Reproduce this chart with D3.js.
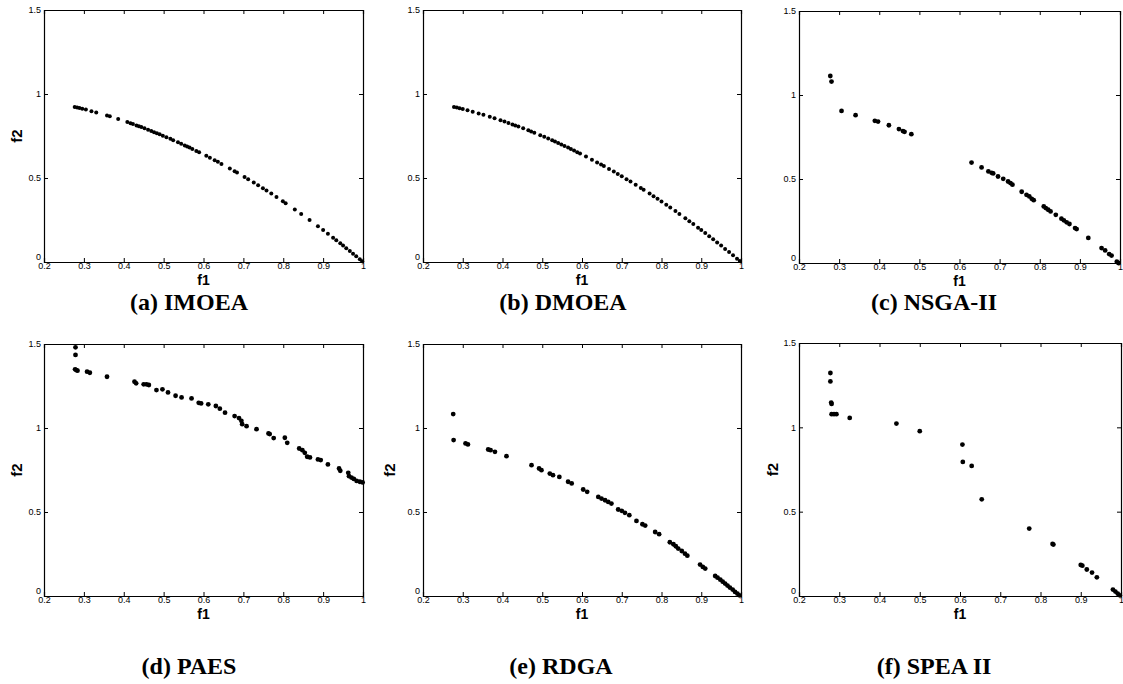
<!DOCTYPE html>
<html>
<head>
<meta charset="utf-8">
<script src="https://cdn.jsdelivr.net/npm/d3@7"></script>
<style>
  html, body { margin: 0; padding: 0; background: #fff; }
  svg { display: block; }
</style>
</head>
<body>
<svg id="chart" width="1123" height="684"></svg>
<script>
// ---------- DATA ----------
const xTicks = [0.2, 0.3, 0.4, 0.5, 0.6, 0.7, 0.8, 0.9, 1];
const yTicks = [0, 0.5, 1, 1.5];
const xLabel = "f1";
const yLabel = "f2";
const panelTitles = ["(a) IMOEA", "(b) DMOEA", "(c) NSGA-II", "(d) PAES", "(e) RDGA", "(f) SPEA II"];

const imoeaPoints = [
  [0.277,0.923],[0.283,0.920],[0.289,0.916],[0.296,0.912],[0.305,0.907],[0.319,0.898],[0.331,0.890],
  [0.358,0.872],[0.365,0.867],[0.386,0.851],[0.409,0.833],[0.417,0.826],[0.423,0.821],[0.432,0.813],
  [0.438,0.808],[0.444,0.803],[0.452,0.796],[0.461,0.787],[0.469,0.780],[0.476,0.773],[0.483,0.767],
  [0.490,0.760],[0.498,0.752],[0.507,0.743],[0.517,0.733],[0.524,0.725],[0.536,0.713],[0.544,0.704],
  [0.553,0.694],[0.559,0.688],[0.565,0.681],[0.572,0.673],[0.582,0.661],[0.589,0.653],[0.607,0.632],
  [0.616,0.621],[0.628,0.606],[0.636,0.596],[0.645,0.584],[0.666,0.556],[0.678,0.540],[0.684,0.532],
  [0.703,0.506],[0.712,0.493],[0.726,0.473],[0.737,0.457],[0.749,0.439],[0.758,0.425],[0.770,0.407],
  [0.783,0.387],[0.799,0.362],[0.806,0.350],[0.829,0.313],[0.845,0.286],[0.866,0.250],[0.887,0.213],
  [0.900,0.190],[0.912,0.168],[0.925,0.144],[0.933,0.130],[0.943,0.111],[0.950,0.098],[0.958,0.082],
  [0.967,0.065],[0.975,0.049],[0.983,0.034],[0.992,0.016],[0.998,0.004]
];

const dmoeaPoints = [
  [0.278,0.923],[0.285,0.919],[0.292,0.915],[0.300,0.910],[0.312,0.903],[0.325,0.894],[0.340,0.884],
  [0.352,0.876],[0.368,0.865],[0.380,0.856],[0.395,0.844],[0.405,0.836],[0.415,0.828],[0.425,0.819],
  [0.432,0.813],[0.440,0.806],[0.452,0.796],[0.465,0.784],[0.472,0.777],[0.480,0.770],[0.495,0.755],
  [0.505,0.745],[0.515,0.735],[0.525,0.724],[0.532,0.717],[0.540,0.708],[0.548,0.700],[0.556,0.691],
  [0.565,0.681],[0.572,0.673],[0.580,0.664],[0.588,0.654],[0.595,0.646],[0.610,0.628],[0.625,0.609],
  [0.638,0.593],[0.648,0.580],[0.655,0.571],[0.668,0.554],[0.680,0.538],[0.690,0.524],[0.700,0.510],
  [0.712,0.493],[0.722,0.479],[0.735,0.460],[0.748,0.440],[0.755,0.430],[0.770,0.407],[0.780,0.392],
  [0.790,0.376],[0.800,0.360],[0.812,0.341],[0.822,0.324],[0.835,0.303],[0.845,0.286],[0.860,0.260],
  [0.870,0.243],[0.880,0.226],[0.892,0.204],[0.900,0.190],[0.910,0.172],[0.920,0.154],[0.930,0.135],
  [0.940,0.116],[0.950,0.098],[0.960,0.078],[0.970,0.059],[0.980,0.040],[0.990,0.020],[0.997,0.006]
];

const nsga2Points = [
  [0.278,1.113],[0.281,1.080],[0.306,0.905],[0.341,0.880],[0.389,0.846],[0.397,0.842],[0.424,0.820],
  [0.449,0.797],[0.459,0.785],[0.463,0.781],[0.480,0.767],
  [0.630,0.598],[0.655,0.569],[0.672,0.545],[0.680,0.537],[0.684,0.533],[0.696,0.515],[0.709,0.501],
  [0.721,0.485],[0.727,0.476],[0.732,0.466],[0.755,0.424],[0.767,0.406],[0.774,0.396],[0.780,0.382],
  [0.785,0.374],[0.810,0.337],[0.815,0.327],[0.821,0.317],[0.827,0.307],[0.840,0.287],[0.854,0.264],
  [0.860,0.254],[0.867,0.242],[0.874,0.232],[0.888,0.208],[0.892,0.202],[0.921,0.149],[0.954,0.089],
  [0.963,0.075],[0.973,0.053],[0.979,0.044],[0.992,0.008],[0.996,0.000]
];

const paesPoints = [
  [0.279,1.480],[0.279,1.435],[0.278,1.349],[0.281,1.345],[0.284,1.341],[0.308,1.335],[0.315,1.329],
  [0.358,1.305],[0.427,1.276],[0.431,1.266],[0.450,1.260],[0.457,1.260],[0.463,1.256],[0.482,1.226],
  [0.497,1.230],[0.511,1.212],[0.530,1.192],[0.545,1.182],[0.570,1.176],[0.588,1.150],[0.594,1.146],
  [0.612,1.141],[0.631,1.131],[0.641,1.115],[0.654,1.091],[0.678,1.071],[0.689,1.059],[0.695,1.043],
  [0.697,1.023],[0.708,1.011],[0.733,0.993],[0.763,0.968],[0.766,0.964],[0.776,0.940],[0.804,0.942],
  [0.810,0.912],[0.840,0.878],[0.848,0.868],[0.854,0.852],[0.860,0.829],[0.867,0.825],[0.887,0.813],
  [0.894,0.809],[0.912,0.783],[0.940,0.759],[0.943,0.745],[0.963,0.733],[0.965,0.713],[0.971,0.705],
  [0.977,0.697],[0.984,0.685],[0.992,0.680],[0.999,0.676]
];

const rdgaPoints = [
  [0.276,1.083],[0.277,0.928],[0.307,0.908],[0.313,0.902],[0.364,0.872],[0.370,0.868],[0.381,0.858],
  [0.410,0.832],[0.473,0.779],[0.492,0.759],[0.498,0.749],[0.519,0.729],[0.527,0.719],[0.543,0.709],
  [0.565,0.680],[0.574,0.670],[0.603,0.634],[0.613,0.620],[0.641,0.590],[0.649,0.580],[0.658,0.570],
  [0.666,0.560],[0.674,0.550],[0.691,0.515],[0.700,0.507],[0.708,0.495],[0.719,0.481],[0.737,0.447],
  [0.752,0.427],[0.759,0.419],[0.784,0.381],[0.794,0.368],[0.821,0.320],[0.830,0.308],[0.836,0.296],
  [0.842,0.282],[0.851,0.268],[0.859,0.252],[0.865,0.240],[0.897,0.187],[0.904,0.173],[0.910,0.163],
  [0.935,0.119],[0.941,0.109],[0.948,0.097],[0.954,0.085],[0.960,0.074],[0.966,0.062],[0.972,0.050],
  [0.979,0.038],[0.985,0.024],[0.991,0.014],[0.996,0.004]
];

const spea2Points = [
  [0.278,1.322],[0.278,1.272],[0.280,1.147],[0.281,1.139],[0.281,1.078],[0.287,1.078],[0.293,1.078],
  [0.326,1.056],[0.442,1.022],[0.500,0.977],[0.606,0.898],[0.607,0.795],[0.629,0.771],[0.654,0.573],
  [0.772,0.400],[0.830,0.309],[0.832,0.305],[0.900,0.184],[0.904,0.180],[0.915,0.157],[0.928,0.139],
  [0.940,0.111],[0.980,0.038],[0.986,0.026],[0.992,0.014],[0.997,0.004]
];

const panelSeries = [imoeaPoints, dmoeaPoints, nsga2Points, paesPoints, rdgaPoints, spea2Points];

// ---------- LAYOUT ----------
const boxes = [
  {x0: 44,  x1: 363,  y0: 10,  y1: 262, r: 2.0, showY: true,  yLabX: 17,  titleX: 189, titleY: 302},
  {x0: 423, x1: 741,  y0: 10,  y1: 262, r: 2.0, showY: false, yLabX: 396, titleX: 563, titleY: 302},
  {x0: 799, x1: 1120, y0: 11,  y1: 263, r: 2.4, showY: false, yLabX: 773, titleX: 934, titleY: 302},
  {x0: 44,  x1: 363,  y0: 344, y1: 596, r: 2.4, showY: true,  yLabX: 17,  titleX: 189, titleY: 666},
  {x0: 423, x1: 741,  y0: 344, y1: 596, r: 2.4, showY: true,  yLabX: 390, titleX: 561, titleY: 666},
  {x0: 799, x1: 1121, y0: 343, y1: 596, r: 2.4, showY: true,  yLabX: 773, titleX: 934, titleY: 666}
];

const svg = d3.select("#chart");
const fmt = d3.format("~g");
const tickFont = "'Liberation Sans', Arial, sans-serif";

boxes.forEach((b, i) => {
  const x = d3.scaleLinear().domain([0.2, 1]).range([b.x0, b.x1]);
  const y = d3.scaleLinear().domain([0, 1.5]).range([b.y1, b.y0]);
  const g = svg.append("g");

  const gb = g.append("g").attr("transform", `translate(0,${b.y1})`)
    .call(d3.axisBottom(x).tickValues(xTicks).tickFormat(fmt).tickSize(-4).tickPadding(1));
  const gt = g.append("g").attr("transform", `translate(0,${b.y0})`)
    .call(d3.axisTop(x).tickValues(xTicks).tickFormat("").tickSize(-4));
  const gl = g.append("g").attr("transform", `translate(${b.x0},0)`)
    .call(d3.axisLeft(y).tickValues(yTicks).tickFormat(fmt).tickSize(-4).tickPadding(3));
  const gr = g.append("g").attr("transform", `translate(${b.x1},0)`)
    .call(d3.axisRight(y).tickValues(yTicks).tickFormat("").tickSize(-4));

  [gb, gt, gl, gr].forEach(ax => {
    ax.select(".domain").attr("stroke", "#000").attr("stroke-width", 1.2);
    ax.selectAll(".tick line").attr("stroke", "#000").attr("stroke-width", 1);
    ax.selectAll(".tick text").attr("fill", "#000")
      .style("font-family", tickFont).style("font-size", "9px");
  });
  // lift the corner "0" label so it sits above the "0.2" label, as in the original
  gl.selectAll(".tick text").filter(d => d === 0).attr("dy", "-0.3em");

  g.append("text")
    .attr("x", (b.x0 + b.x1) / 2).attr("y", b.y1 + 23)
    .attr("text-anchor", "middle")
    .style("font-family", tickFont).style("font-weight", "bold").style("font-size", "14px")
    .text(xLabel);
  if (b.showY) {
    g.append("text")
      .attr("transform", `translate(${b.yLabX},${(b.y0 + b.y1) / 2}) rotate(-90)`)
      .attr("text-anchor", "middle").attr("dy", "0.35em")
      .style("font-family", tickFont).style("font-weight", "bold").style("font-size", "15px")
      .text(yLabel);
  }

  g.append("g").selectAll("circle")
    .data(panelSeries[i])
    .join("circle")
    .attr("cx", d => x(d[0]))
    .attr("cy", d => y(d[1]))
    .attr("r", b.r)
    .attr("fill", "#000");

  g.append("text")
    .attr("x", b.titleX).attr("y", b.titleY)
    .attr("text-anchor", "middle").attr("dy", "0.35em")
    .style("font-family", "'Liberation Serif', 'Times New Roman', serif")
    .style("font-weight", "bold").style("font-size", "24px")
    .text(panelTitles[i]);
});
</script>
</body>
</html>
